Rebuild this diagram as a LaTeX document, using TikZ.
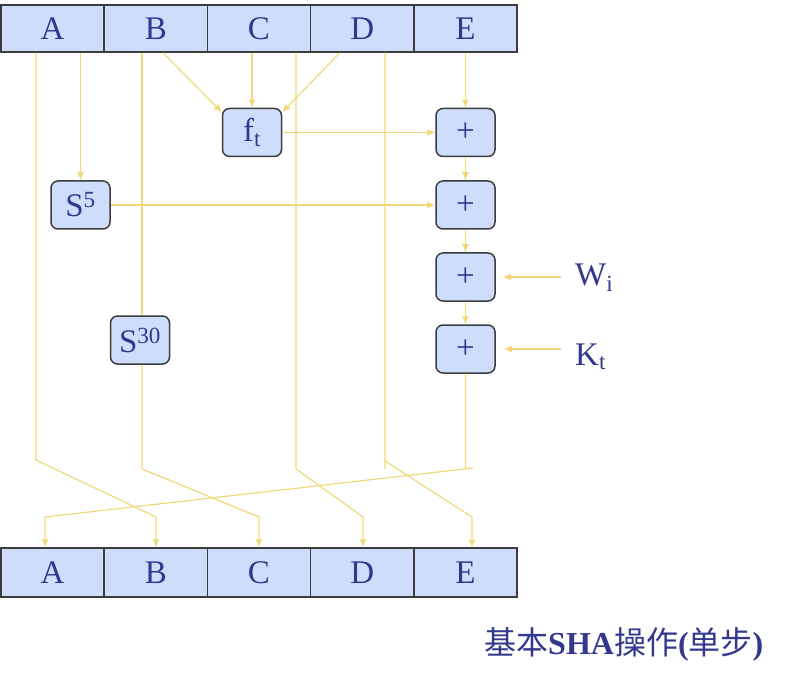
\documentclass[tikz,border=0pt]{standalone}
\usepackage{fontspec}
\setmainfont{Liberation Serif}
\newfontfamily\cjk{Noto Sans CJK SC}
\usetikzlibrary{arrows.meta}

\definecolor{regfill}{RGB}{206,221,252}
\definecolor{regtext}{RGB}{52,56,140}
\definecolor{wirecol}{RGB}{240,216,122}
\definecolor{edgecol}{RGB}{60,60,60}

\tikzset{
	reg/.style = {draw = edgecol, line width = 1.5pt, fill = regfill, text = regtext,
		minimum width = 103.2pt, minimum height = 47pt, inner sep = 0pt,
		font = \fontsize{33}{36}\selectfont},
	op/.style = {reg, rounded corners = 7pt, minimum width = 59pt, minimum height = 48pt},
	wire/.style = {draw = wirecol, line width = 1.2pt},
	lbl/.style = {text = regtext, inner sep = 0pt, font = \fontsize{33}{36}\selectfont}
}

\begin{document}
\begin{tikzpicture}[x = 1pt, y = -1pt, > = {Latex[length = 8pt, width = 7pt]}]

	\useasboundingbox (0, 0) rectangle (802, 684);

	% Definitions

	\def\W{103.2}	% Width of a register cell

	% Registers

	\foreach \n [count = \i] in {A, B, C, D, E}
	{
		\node [reg] (t\n) at ({1 + \W * (\i - 0.5)}, 28.5) {\n};
		\node [reg, minimum height = 49pt] (b\n) at ({1 + \W * (\i - 0.5)}, 572.5) {\n};
	}

	% Function, rotations and adders

	\node [op] (ft) at (252, 132.5) {f\textsubscript{t}};
	\node [op] (s5) at (80.5, 205) {S\textsuperscript{5}};
	\node [op] (s30) at (140, 340) {S\textsuperscript{30}};

	\node [op] (p1) at (465.5, 132.5) {+};
	\node [op] (p2) at (465.5, 205) {+};
	\node [op] (p3) at (465.5, 277) {+};
	\node [op] (p4) at (465.5, 349) {+};

	% Inputs

	\node [lbl, anchor = base west] (wi) at (575, 285) {W\textsubscript{i}};
	\node [lbl, anchor = base west] (kt) at (575, 365) {K\textsubscript{t}};

	% Bend points

	\coordinate (a1) at (36, 460);
	\coordinate (a2) at (156, 517);
	\coordinate (bf) at (163, 52);
	\coordinate (b1) at (142, 469);
	\coordinate (b2) at (259, 517);
	\coordinate (c1) at (296, 469);
	\coordinate (c2) at (363, 517);
	\coordinate (df) at (340, 52);
	\coordinate (d1) at (385, 469);
	\coordinate (d2) at (385, 461);
	\coordinate (d3) at (472, 517);
	\coordinate (e1) at (465.5, 469);
	\coordinate (e2) at (473, 468);
	\coordinate (e3) at (45, 517);

	% Wires into the step

	\draw [wire, ->] (tA.south -| s5.north) -- (s5.north);
	\draw [wire, ->] (tB.south -| bf) -- (ft.146);
	\draw [wire, ->] (tC.south -| ft.north) -- (ft.north);
	\draw [wire, ->] (tD.south -| df) -- (ft.34);
	\draw [wire, ->] (tE.south -| p1.north) -- (p1.north);

	\draw [wire, ->] (ft.east) -- (p1.west);
	\draw [wire, ->] (s5.east) -- (p2.west);
	\draw [wire, ->] (p1.south) -- (p2.north);
	\draw [wire, ->] (p2.south) -- (p3.north);
	\draw [wire, ->] (p3.south) -- (p4.north);

	\draw [wire, ->, shorten < = 14pt, shorten > = 7pt] (wi.west |- p3.east) -- (p3.east);
	\draw [wire, ->, shorten < = 14pt, shorten > = 8pt] (kt.west |- p4.east) -- (p4.east);

	% Wires to the next registers

	\draw [wire, ->] (tA.south -| a1) -- (a1) -- (a2) -- (bB.north -| a2);
	\draw [wire] (tB.south -| b1) -- (s30.north -| b1);
	\draw [wire, ->] (s30.south -| b1) -- (b1) -- (b2) -- (bC.north -| b2);
	\draw [wire, ->] (tC.south -| c1) -- (c1) -- (c2) -- (bD.north -| c2);
	\draw [wire, ->] (tD.south -| d1) -- (d1) (d2) -- (d3) -- (bE.north -| d3);
	\draw [wire, ->] (p4.south) -- (e1) (e2) -- (e3) -- (bA.north -| e3);

	% Caption

	\node [lbl, anchor = base west, font = \fontsize{32}{36}\selectfont] (cap) at (484, 654)
		{{\cjk 基本}\textbf{SHA}{\cjk 操作}\textbf{(}{\cjk 单步}\textbf{)}};

\end{tikzpicture}
\end{document}
